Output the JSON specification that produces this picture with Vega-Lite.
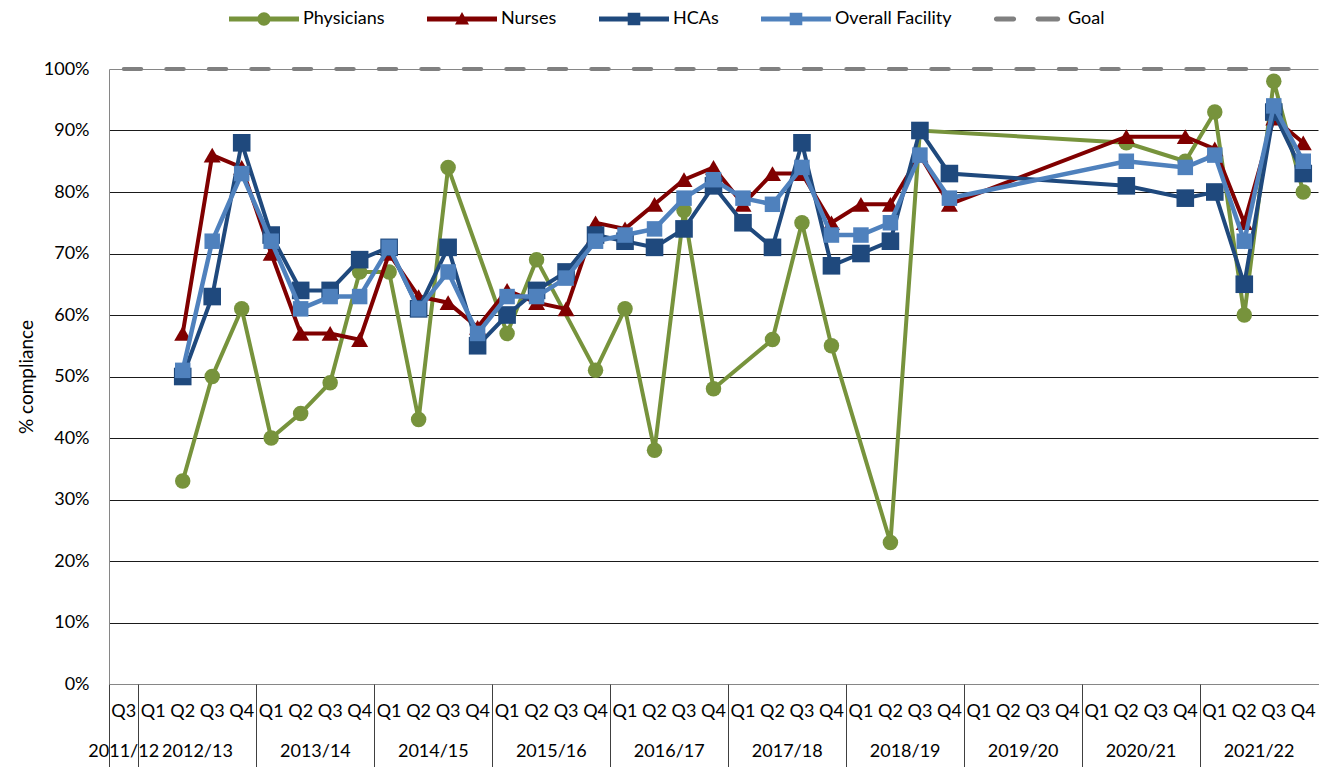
{
  "$schema": "https://vega.github.io/schema/vega-lite/v6.json",
  "width": 1209,
  "height": 615,
  "autosize": "none",
  "padding": {"left": 109, "top": 69, "right": 5, "bottom": 83},
  "background": "white",
  "config": {
    "view": {"stroke": null},
    "font": "Lato",
    "axis": {"labelFont": "Lato", "titleFont": "Lato", "labelFontSize": 18, "titleFontSize": 19, "titleFontWeight": "normal", "labelColor": "#000", "titleColor": "#000"}
  },
  "data": {
    "values": [
      {"cat": "2012/13 Q2", "series": "Physicians", "value": 33},
      {"cat": "2012/13 Q3", "series": "Physicians", "value": 50},
      {"cat": "2012/13 Q4", "series": "Physicians", "value": 61},
      {"cat": "2013/14 Q1", "series": "Physicians", "value": 40},
      {"cat": "2013/14 Q2", "series": "Physicians", "value": 44},
      {"cat": "2013/14 Q3", "series": "Physicians", "value": 49},
      {"cat": "2013/14 Q4", "series": "Physicians", "value": 67},
      {"cat": "2014/15 Q1", "series": "Physicians", "value": 67},
      {"cat": "2014/15 Q2", "series": "Physicians", "value": 43},
      {"cat": "2014/15 Q3", "series": "Physicians", "value": 84},
      {"cat": "2015/16 Q1", "series": "Physicians", "value": 57},
      {"cat": "2015/16 Q2", "series": "Physicians", "value": 69},
      {"cat": "2015/16 Q4", "series": "Physicians", "value": 51},
      {"cat": "2016/17 Q1", "series": "Physicians", "value": 61},
      {"cat": "2016/17 Q2", "series": "Physicians", "value": 38},
      {"cat": "2016/17 Q3", "series": "Physicians", "value": 77},
      {"cat": "2016/17 Q4", "series": "Physicians", "value": 48},
      {"cat": "2017/18 Q2", "series": "Physicians", "value": 56},
      {"cat": "2017/18 Q3", "series": "Physicians", "value": 75},
      {"cat": "2017/18 Q4", "series": "Physicians", "value": 55},
      {"cat": "2018/19 Q2", "series": "Physicians", "value": 23},
      {"cat": "2018/19 Q3", "series": "Physicians", "value": 90},
      {"cat": "2020/21 Q2", "series": "Physicians", "value": 88},
      {"cat": "2020/21 Q4", "series": "Physicians", "value": 85},
      {"cat": "2021/22 Q1", "series": "Physicians", "value": 93},
      {"cat": "2021/22 Q2", "series": "Physicians", "value": 60},
      {"cat": "2021/22 Q3", "series": "Physicians", "value": 98},
      {"cat": "2021/22 Q4", "series": "Physicians", "value": 80},

      {"cat": "2012/13 Q2", "series": "Nurses", "value": 57},
      {"cat": "2012/13 Q3", "series": "Nurses", "value": 86},
      {"cat": "2012/13 Q4", "series": "Nurses", "value": 84},
      {"cat": "2013/14 Q1", "series": "Nurses", "value": 70},
      {"cat": "2013/14 Q2", "series": "Nurses", "value": 57},
      {"cat": "2013/14 Q3", "series": "Nurses", "value": 57},
      {"cat": "2013/14 Q4", "series": "Nurses", "value": 56},
      {"cat": "2014/15 Q1", "series": "Nurses", "value": 70},
      {"cat": "2014/15 Q2", "series": "Nurses", "value": 63},
      {"cat": "2014/15 Q3", "series": "Nurses", "value": 62},
      {"cat": "2014/15 Q4", "series": "Nurses", "value": 58},
      {"cat": "2015/16 Q1", "series": "Nurses", "value": 64},
      {"cat": "2015/16 Q2", "series": "Nurses", "value": 62},
      {"cat": "2015/16 Q3", "series": "Nurses", "value": 61},
      {"cat": "2015/16 Q4", "series": "Nurses", "value": 75},
      {"cat": "2016/17 Q1", "series": "Nurses", "value": 74},
      {"cat": "2016/17 Q2", "series": "Nurses", "value": 78},
      {"cat": "2016/17 Q3", "series": "Nurses", "value": 82},
      {"cat": "2016/17 Q4", "series": "Nurses", "value": 84},
      {"cat": "2017/18 Q1", "series": "Nurses", "value": 78},
      {"cat": "2017/18 Q2", "series": "Nurses", "value": 83},
      {"cat": "2017/18 Q3", "series": "Nurses", "value": 83},
      {"cat": "2017/18 Q4", "series": "Nurses", "value": 75},
      {"cat": "2018/19 Q1", "series": "Nurses", "value": 78},
      {"cat": "2018/19 Q2", "series": "Nurses", "value": 78},
      {"cat": "2018/19 Q3", "series": "Nurses", "value": 86},
      {"cat": "2018/19 Q4", "series": "Nurses", "value": 78},
      {"cat": "2020/21 Q2", "series": "Nurses", "value": 89},
      {"cat": "2020/21 Q4", "series": "Nurses", "value": 89},
      {"cat": "2021/22 Q1", "series": "Nurses", "value": 87},
      {"cat": "2021/22 Q2", "series": "Nurses", "value": 75},
      {"cat": "2021/22 Q3", "series": "Nurses", "value": 92},
      {"cat": "2021/22 Q4", "series": "Nurses", "value": 88},

      {"cat": "2012/13 Q2", "series": "HCAs", "value": 50},
      {"cat": "2012/13 Q3", "series": "HCAs", "value": 63},
      {"cat": "2012/13 Q4", "series": "HCAs", "value": 88},
      {"cat": "2013/14 Q1", "series": "HCAs", "value": 73},
      {"cat": "2013/14 Q2", "series": "HCAs", "value": 64},
      {"cat": "2013/14 Q3", "series": "HCAs", "value": 64},
      {"cat": "2013/14 Q4", "series": "HCAs", "value": 69},
      {"cat": "2014/15 Q1", "series": "HCAs", "value": 71},
      {"cat": "2014/15 Q2", "series": "HCAs", "value": 61},
      {"cat": "2014/15 Q3", "series": "HCAs", "value": 71},
      {"cat": "2014/15 Q4", "series": "HCAs", "value": 55},
      {"cat": "2015/16 Q1", "series": "HCAs", "value": 60},
      {"cat": "2015/16 Q2", "series": "HCAs", "value": 64},
      {"cat": "2015/16 Q3", "series": "HCAs", "value": 67},
      {"cat": "2015/16 Q4", "series": "HCAs", "value": 73},
      {"cat": "2016/17 Q1", "series": "HCAs", "value": 72},
      {"cat": "2016/17 Q2", "series": "HCAs", "value": 71},
      {"cat": "2016/17 Q3", "series": "HCAs", "value": 74},
      {"cat": "2016/17 Q4", "series": "HCAs", "value": 81},
      {"cat": "2017/18 Q1", "series": "HCAs", "value": 75},
      {"cat": "2017/18 Q2", "series": "HCAs", "value": 71},
      {"cat": "2017/18 Q3", "series": "HCAs", "value": 88},
      {"cat": "2017/18 Q4", "series": "HCAs", "value": 68},
      {"cat": "2018/19 Q1", "series": "HCAs", "value": 70},
      {"cat": "2018/19 Q2", "series": "HCAs", "value": 72},
      {"cat": "2018/19 Q3", "series": "HCAs", "value": 90},
      {"cat": "2018/19 Q4", "series": "HCAs", "value": 83},
      {"cat": "2020/21 Q2", "series": "HCAs", "value": 81},
      {"cat": "2020/21 Q4", "series": "HCAs", "value": 79},
      {"cat": "2021/22 Q1", "series": "HCAs", "value": 80},
      {"cat": "2021/22 Q2", "series": "HCAs", "value": 65},
      {"cat": "2021/22 Q3", "series": "HCAs", "value": 93},
      {"cat": "2021/22 Q4", "series": "HCAs", "value": 83},

      {"cat": "2012/13 Q2", "series": "Overall Facility", "value": 51},
      {"cat": "2012/13 Q3", "series": "Overall Facility", "value": 72},
      {"cat": "2012/13 Q4", "series": "Overall Facility", "value": 83},
      {"cat": "2013/14 Q1", "series": "Overall Facility", "value": 72},
      {"cat": "2013/14 Q2", "series": "Overall Facility", "value": 61},
      {"cat": "2013/14 Q3", "series": "Overall Facility", "value": 63},
      {"cat": "2013/14 Q4", "series": "Overall Facility", "value": 63},
      {"cat": "2014/15 Q1", "series": "Overall Facility", "value": 71},
      {"cat": "2014/15 Q2", "series": "Overall Facility", "value": 61},
      {"cat": "2014/15 Q3", "series": "Overall Facility", "value": 67},
      {"cat": "2014/15 Q4", "series": "Overall Facility", "value": 57},
      {"cat": "2015/16 Q1", "series": "Overall Facility", "value": 63},
      {"cat": "2015/16 Q2", "series": "Overall Facility", "value": 63},
      {"cat": "2015/16 Q3", "series": "Overall Facility", "value": 66},
      {"cat": "2015/16 Q4", "series": "Overall Facility", "value": 72},
      {"cat": "2016/17 Q1", "series": "Overall Facility", "value": 73},
      {"cat": "2016/17 Q2", "series": "Overall Facility", "value": 74},
      {"cat": "2016/17 Q3", "series": "Overall Facility", "value": 79},
      {"cat": "2016/17 Q4", "series": "Overall Facility", "value": 82},
      {"cat": "2017/18 Q1", "series": "Overall Facility", "value": 79},
      {"cat": "2017/18 Q2", "series": "Overall Facility", "value": 78},
      {"cat": "2017/18 Q3", "series": "Overall Facility", "value": 84},
      {"cat": "2017/18 Q4", "series": "Overall Facility", "value": 73},
      {"cat": "2018/19 Q1", "series": "Overall Facility", "value": 73},
      {"cat": "2018/19 Q2", "series": "Overall Facility", "value": 75},
      {"cat": "2018/19 Q3", "series": "Overall Facility", "value": 86},
      {"cat": "2018/19 Q4", "series": "Overall Facility", "value": 79},
      {"cat": "2020/21 Q2", "series": "Overall Facility", "value": 85},
      {"cat": "2020/21 Q4", "series": "Overall Facility", "value": 84},
      {"cat": "2021/22 Q1", "series": "Overall Facility", "value": 86},
      {"cat": "2021/22 Q2", "series": "Overall Facility", "value": 72},
      {"cat": "2021/22 Q3", "series": "Overall Facility", "value": 94},
      {"cat": "2021/22 Q4", "series": "Overall Facility", "value": 85},

      {"cat": "2011/12 Q3", "series": "Goal", "value": 100},
      {"cat": "2012/13 Q1", "series": "Goal", "value": 100},
      {"cat": "2012/13 Q2", "series": "Goal", "value": 100},
      {"cat": "2012/13 Q3", "series": "Goal", "value": 100},
      {"cat": "2012/13 Q4", "series": "Goal", "value": 100},
      {"cat": "2013/14 Q1", "series": "Goal", "value": 100},
      {"cat": "2013/14 Q2", "series": "Goal", "value": 100},
      {"cat": "2013/14 Q3", "series": "Goal", "value": 100},
      {"cat": "2013/14 Q4", "series": "Goal", "value": 100},
      {"cat": "2014/15 Q1", "series": "Goal", "value": 100},
      {"cat": "2014/15 Q2", "series": "Goal", "value": 100},
      {"cat": "2014/15 Q3", "series": "Goal", "value": 100},
      {"cat": "2014/15 Q4", "series": "Goal", "value": 100},
      {"cat": "2015/16 Q1", "series": "Goal", "value": 100},
      {"cat": "2015/16 Q2", "series": "Goal", "value": 100},
      {"cat": "2015/16 Q3", "series": "Goal", "value": 100},
      {"cat": "2015/16 Q4", "series": "Goal", "value": 100},
      {"cat": "2016/17 Q1", "series": "Goal", "value": 100},
      {"cat": "2016/17 Q2", "series": "Goal", "value": 100},
      {"cat": "2016/17 Q3", "series": "Goal", "value": 100},
      {"cat": "2016/17 Q4", "series": "Goal", "value": 100},
      {"cat": "2017/18 Q1", "series": "Goal", "value": 100},
      {"cat": "2017/18 Q2", "series": "Goal", "value": 100},
      {"cat": "2017/18 Q3", "series": "Goal", "value": 100},
      {"cat": "2017/18 Q4", "series": "Goal", "value": 100},
      {"cat": "2018/19 Q1", "series": "Goal", "value": 100},
      {"cat": "2018/19 Q2", "series": "Goal", "value": 100},
      {"cat": "2018/19 Q3", "series": "Goal", "value": 100},
      {"cat": "2018/19 Q4", "series": "Goal", "value": 100},
      {"cat": "2019/20 Q1", "series": "Goal", "value": 100},
      {"cat": "2019/20 Q2", "series": "Goal", "value": 100},
      {"cat": "2019/20 Q3", "series": "Goal", "value": 100},
      {"cat": "2019/20 Q4", "series": "Goal", "value": 100},
      {"cat": "2020/21 Q1", "series": "Goal", "value": 100},
      {"cat": "2020/21 Q2", "series": "Goal", "value": 100},
      {"cat": "2020/21 Q3", "series": "Goal", "value": 100},
      {"cat": "2020/21 Q4", "series": "Goal", "value": 100},
      {"cat": "2021/22 Q1", "series": "Goal", "value": 100},
      {"cat": "2021/22 Q2", "series": "Goal", "value": 100},
      {"cat": "2021/22 Q3", "series": "Goal", "value": 100},
      {"cat": "2021/22 Q4", "series": "Goal", "value": 100}
    ]
  },
  "layer": [
    {
      "transform": [{"filter": "datum.series === 'Physicians'"}],
      "mark": {"type": "line", "strokeWidth": 4, "point": {"filled": true, "shape": "circle", "size": 240, "opacity": 1}},
      "encoding": {
        "x": {
          "field": "cat", "type": "ordinal",
          "scale": {"type": "band", "paddingInner": 0, "paddingOuter": 0, "domain": ["2011/12 Q3", "2012/13 Q1", "2012/13 Q2", "2012/13 Q3", "2012/13 Q4", "2013/14 Q1", "2013/14 Q2", "2013/14 Q3", "2013/14 Q4", "2014/15 Q1", "2014/15 Q2", "2014/15 Q3", "2014/15 Q4", "2015/16 Q1", "2015/16 Q2", "2015/16 Q3", "2015/16 Q4", "2016/17 Q1", "2016/17 Q2", "2016/17 Q3", "2016/17 Q4", "2017/18 Q1", "2017/18 Q2", "2017/18 Q3", "2017/18 Q4", "2018/19 Q1", "2018/19 Q2", "2018/19 Q3", "2018/19 Q4", "2019/20 Q1", "2019/20 Q2", "2019/20 Q3", "2019/20 Q4", "2020/21 Q1", "2020/21 Q2", "2020/21 Q3", "2020/21 Q4", "2021/22 Q1", "2021/22 Q2", "2021/22 Q3", "2021/22 Q4"]},
          "axis": {
            "orient": "bottom", "title": null, "grid": false, "domain": false, "ticks": false,
            "values": ["2011/12 Q3", "2012/13 Q2", "2013/14 Q2", "2014/15 Q2", "2015/16 Q2", "2016/17 Q2", "2017/18 Q2", "2018/19 Q2", "2019/20 Q2", "2020/21 Q2", "2021/22 Q2"],
            "labelExpr": "split(datum.value, ' ')[0]",
            "labelAngle": 0, "labelOverlap": false, "labelBound": false, "labelFlush": false,
            "labelPadding": 58,
            "labelOffset": {"condition": {"test": "datum.value === '2011/12 Q3'", "value": 0}, "value": 14.74}
          }
        },
        "y": {
          "field": "value", "type": "quantitative",
          "scale": {"domain": [0, 100], "nice": false},
          "axis": {
            "title": "% compliance", "titlePadding": 7, "titleFontSize": 19, "titleFont": "Lato", "titleFontWeight": "normal",
            "values": [0, 10, 20, 30, 40, 50, 60, 70, 80, 90, 100],
            "labelExpr": "datum.value + '%'",
            "grid": true, "gridWidth": 1,
            "gridColor": {"condition": {"test": "datum.value === 100", "value": "#868686"}, "value": "#1a1a1a"},
            "ticks": false, "domain": true, "domainColor": "#868686", "domainWidth": 1,
            "labelPadding": 20
          }
        },
        "color": {
          "field": "series", "type": "nominal",
          "scale": {"domain": ["Physicians", "Nurses", "HCAs", "Overall Facility", "Goal"], "range": ["#77933C", "#800000", "#1F497D", "#4F81BD", "#808080"]},
          "legend": {
            "title": null, "orient": "none", "legendX": 118, "legendY": -59, "direction": "horizontal",
            "padding": 0, "symbolSize": 196, "symbolOffset": 28, "labelOffset": 30, "columnPadding": 40,
            "labelFontSize": 18, "labelFont": "Lato", "labelColor": "#000", "symbolStrokeWidth": 0,
            "encode": {
              "symbols": {
                "update": {
                  "shape": {"signal": "datum.value === 'Physicians' ? 'M-5,-0.36H5V0.36H-5Z M0.95,0A0.95,0.95,0,1,1,-0.95,0A0.95,0.95,0,1,1,0.95,0Z' : datum.value === 'Nurses' ? 'M-5,-0.36H5V0.36H-5Z M0,-1L1,0.8L-1,0.8Z' : datum.value === 'Goal' ? 'M-4.65,-0.36H-2.2A0.36,0.36,0,0,1,-2.2,0.36H-4.65A0.36,0.36,0,0,1,-4.65,-0.36Z M1.3,-0.36H4.1A0.36,0.36,0,0,1,4.1,0.36H1.3A0.36,0.36,0,0,1,1.3,-0.36Z' : 'M-5,-0.36H5V0.36H-5Z M-0.9,-0.9H0.9V0.9H-0.9Z'"},
                  "fill": {"scale": "color", "field": "value"},
                  "fillOpacity": {"value": 1},
                  "opacity": {"value": 1},
                  "strokeWidth": {"value": 0}
                }
              }
            }
          }
        }
      }
    },
    {
      "transform": [{"filter": "datum.series === 'Nurses'"}],
      "mark": {"type": "line", "strokeWidth": 4, "point": {"filled": true, "shape": "triangle-up", "size": 290, "opacity": 1}},
      "encoding": {
        "x": {
          "field": "cat", "type": "ordinal",
          "axis": {
            "orient": "bottom", "title": null, "grid": false, "ticks": false,
            "domain": true, "domainColor": "#868686", "domainWidth": 1,
            "labelExpr": "split(datum.value, ' ')[1]",
            "labelAngle": 0, "labelOverlap": false, "labelBound": false, "labelFlush": false,
            "labelPadding": 18
          }
        },
        "y": {"field": "value", "type": "quantitative"},
        "color": {"field": "series", "type": "nominal"}
      }
    },
    {
      "transform": [{"filter": "datum.series === 'HCAs'"}],
      "mark": {"type": "line", "strokeWidth": 4, "point": {"filled": true, "shape": "square", "size": 310, "opacity": 1}},
      "encoding": {
        "x": {
          "field": "cat", "type": "ordinal",
          "axis": {
            "orient": "bottom", "title": null, "grid": false, "domain": false, "labels": false,
            "ticks": true, "tickSize": 83, "tickColor": "#404040", "tickWidth": 1, "bandPosition": 0,
            "values": ["2011/12 Q3", "2012/13 Q1", "2013/14 Q1", "2014/15 Q1", "2015/16 Q1", "2016/17 Q1", "2017/18 Q1", "2018/19 Q1", "2019/20 Q1", "2020/21 Q1", "2021/22 Q1"]
          }
        },
        "y": {"field": "value", "type": "quantitative"},
        "color": {"field": "series", "type": "nominal"}
      }
    },
    {
      "transform": [{"filter": "datum.series === 'Overall Facility'"}],
      "mark": {"type": "line", "strokeWidth": 4.5, "point": {"filled": true, "shape": "square", "size": 240, "opacity": 1}},
      "encoding": {
        "x": {"field": "cat", "type": "ordinal", "axis": null},
        "y": {"field": "value", "type": "quantitative"},
        "color": {"field": "series", "type": "nominal"}
      }
    },
    {
      "transform": [{"filter": "datum.series === 'Goal'"}],
      "mark": {"type": "line", "strokeWidth": 4, "strokeCap": "round", "strokeDash": [17.5, 25]},
      "encoding": {
        "x": {"field": "cat", "type": "ordinal", "axis": null},
        "y": {"field": "value", "type": "quantitative"},
        "color": {"field": "series", "type": "nominal"}
      }
    }
  ],
  "resolve": {"axis": {"x": "independent"}}
}
